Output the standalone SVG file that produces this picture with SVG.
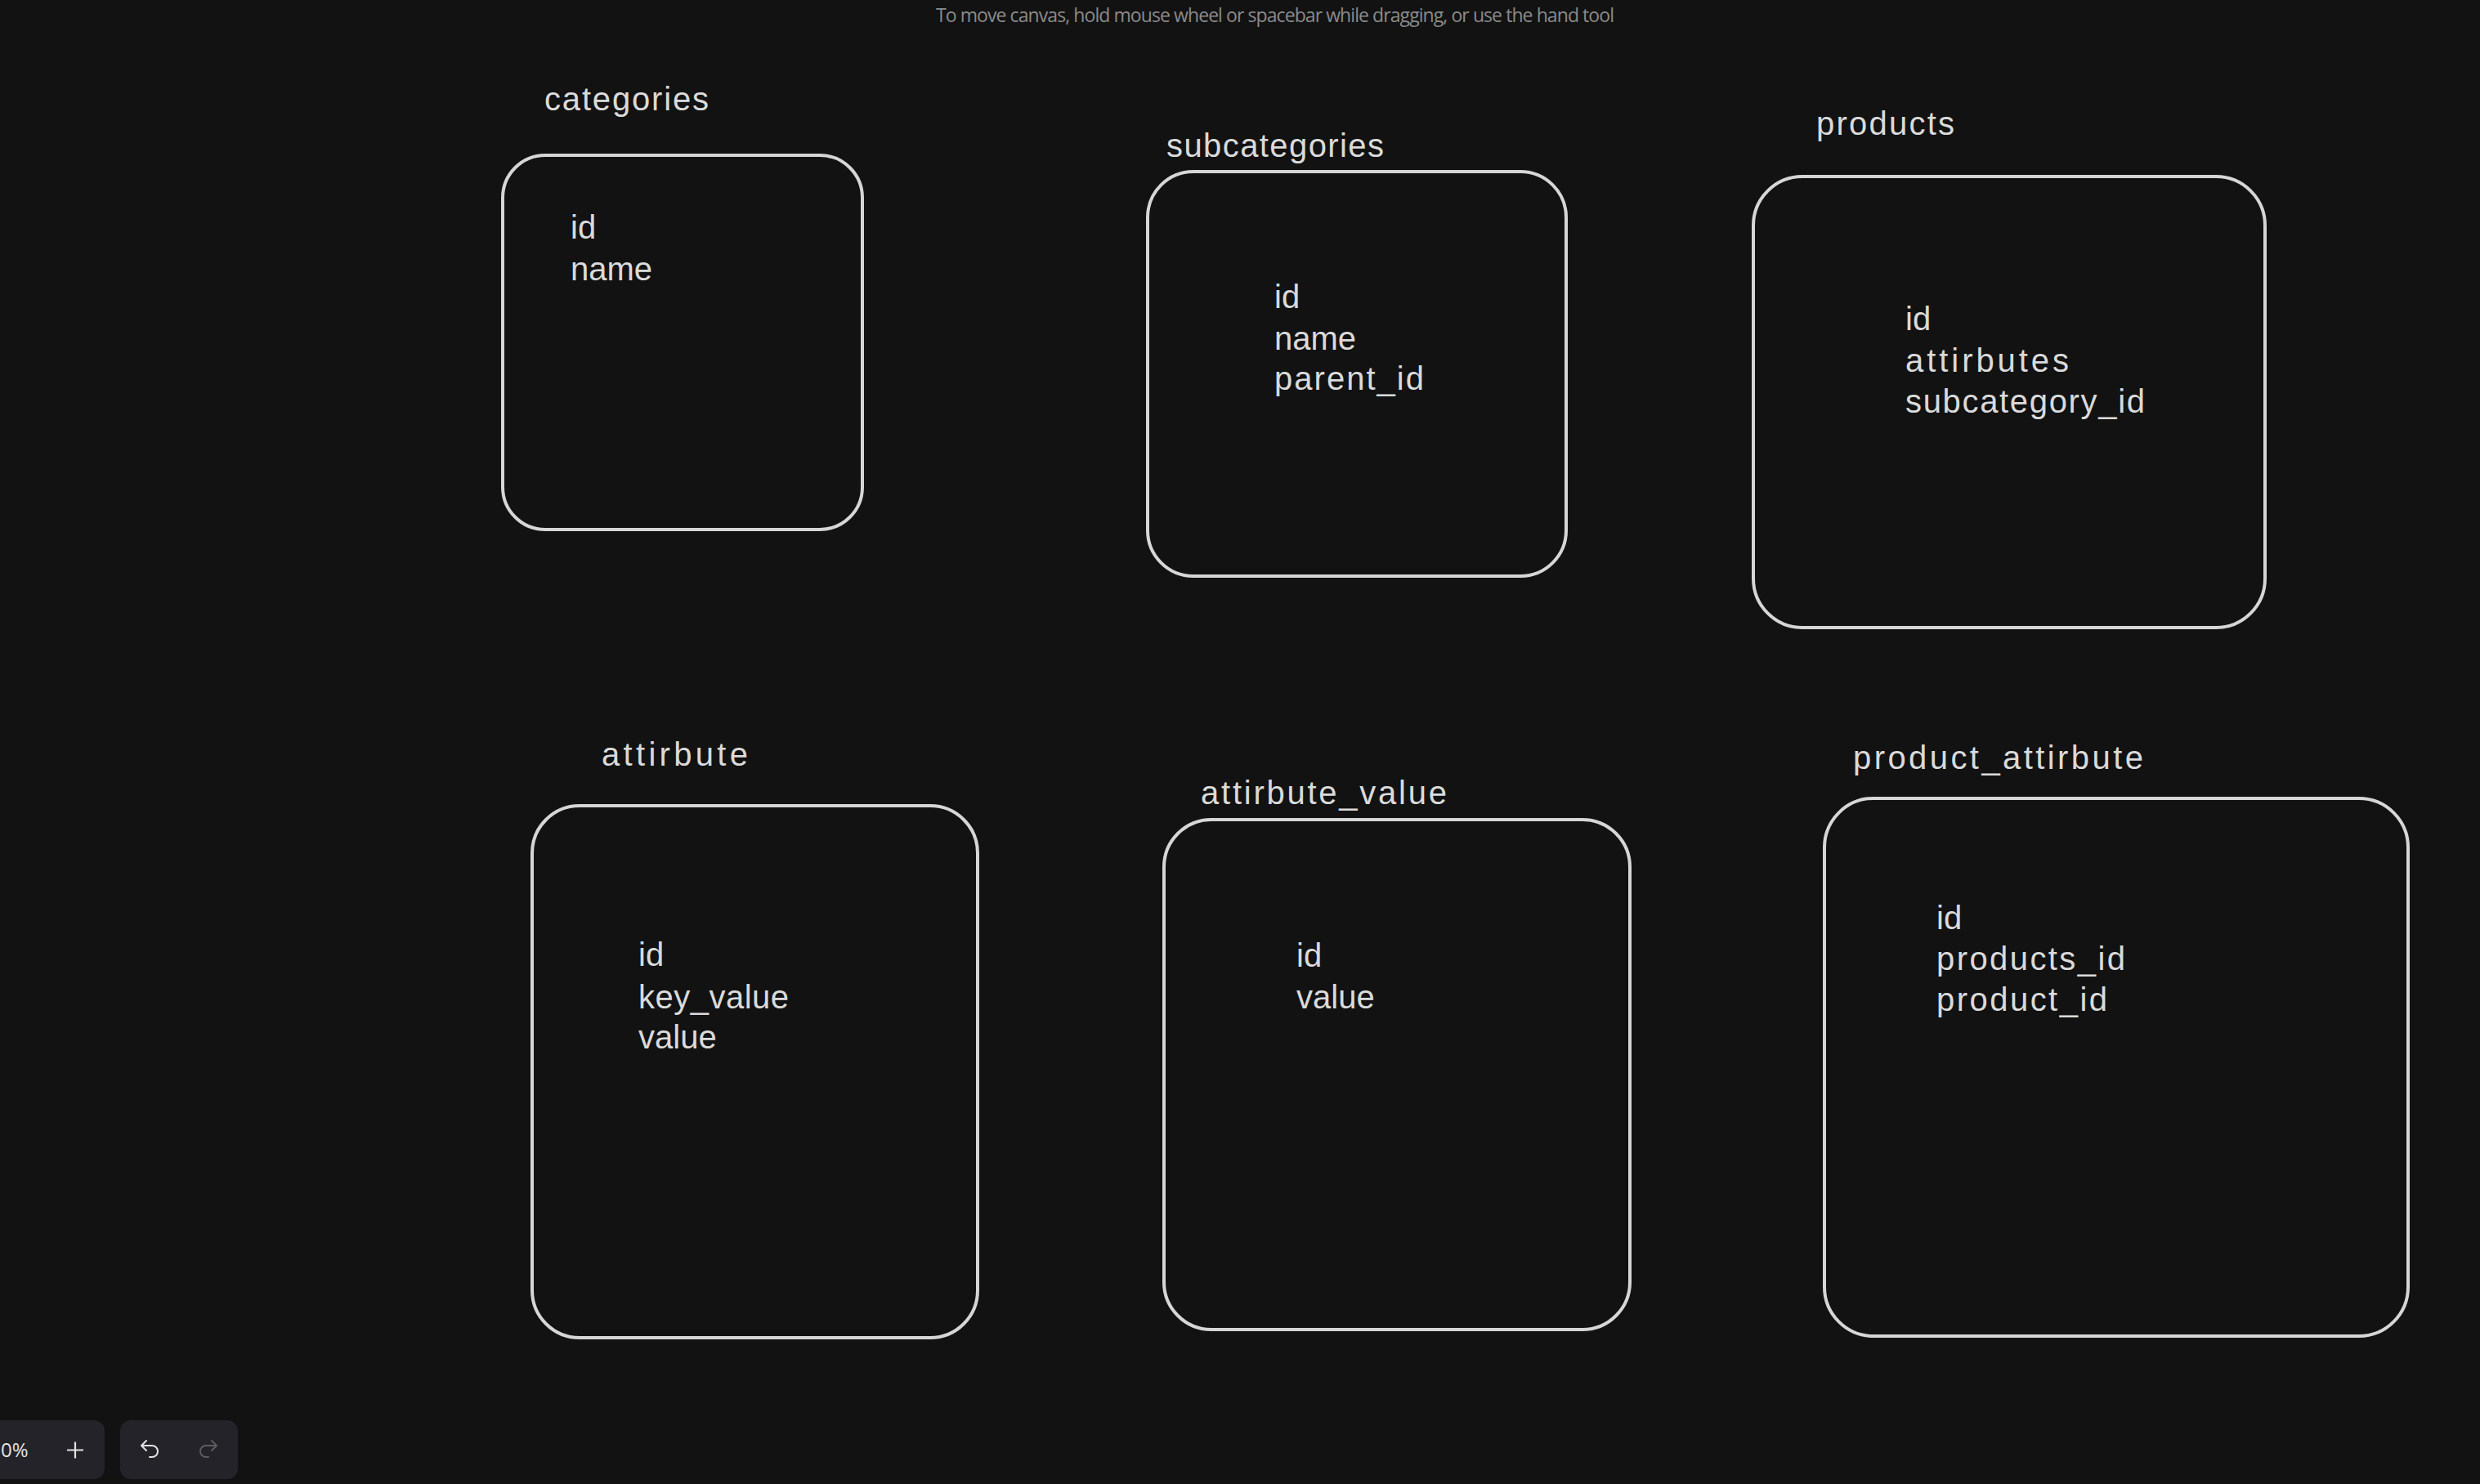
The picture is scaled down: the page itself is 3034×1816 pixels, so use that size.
<svg xmlns="http://www.w3.org/2000/svg" width="3034" height="1816" viewBox="0 0 3034 1816">
  <style>
    .box { fill: none; stroke: #d6d6d6; stroke-width: 4; stroke-linejoin: round; }
    .lbl { font-family: "Liberation Sans", Arial, sans-serif; font-size: 40px; fill: #dadada; }
    .fld { font-family: "Liberation Sans", Arial, sans-serif; font-size: 40px; fill: #dadada; }
    .hint { font-family: "Open Sans", "Liberation Sans", sans-serif; font-size: 23px; fill: #8a8a8a; }
    .island { fill: #232329; }
    .ui { font-family: "Open Sans", "Liberation Sans", sans-serif; font-size: 24px; fill: #e2e2e2; }
  </style>
  <rect x="0" y="0" width="3034" height="1816" fill="#121212"/>

  <text class="hint" x="1145" y="27" textLength="830">To move canvas, hold mouse wheel or spacebar while dragging, or use the hand tool</text>

  <g id="connectors"></g>

  <g id="categories">
    <text class="lbl" x="666" y="135" textLength="201">categories</text>
    <rect class="box" x="615" y="190" width="440" height="458" rx="52" ry="52"/>
    <text class="fld" x="698" y="292">id</text>
    <text class="fld" x="698" y="343">name</text>
  </g>

  <g id="subcategories">
    <text class="lbl" x="1427" y="192" textLength="266">subcategories</text>
    <rect class="box" x="1404" y="210" width="512" height="495" rx="56" ry="56"/>
    <text class="fld" x="1559" y="377">id</text>
    <text class="fld" x="1559" y="428">name</text>
    <text class="fld" x="1559" y="477" textLength="183">parent_id</text>
  </g>

  <g id="products">
    <text class="lbl" x="2222" y="165" textLength="169">products</text>
    <rect class="box" x="2145" y="216" width="626" height="552" rx="60" ry="60"/>
    <text class="fld" x="2331" y="404">id</text>
    <text class="fld" x="2331" y="455" textLength="200">attirbutes</text>
    <text class="fld" x="2331" y="505" textLength="293">subcategory_id</text>
  </g>

  <g id="attirbute">
    <text class="lbl" x="736" y="937" textLength="179">attirbute</text>
    <rect class="box" x="651" y="986" width="545" height="651" rx="58" ry="58"/>
    <text class="fld" x="781" y="1182">id</text>
    <text class="fld" x="781" y="1234" textLength="184">key_value</text>
    <text class="fld" x="781" y="1283">value</text>
  </g>

  <g id="attirbute_value">
    <text class="lbl" x="1469" y="984" textLength="301">attirbute_value</text>
    <rect class="box" x="1424" y="1003" width="570" height="624" rx="58" ry="58"/>
    <text class="fld" x="1586" y="1183">id</text>
    <text class="fld" x="1586" y="1234">value</text>
  </g>

  <g id="product_attirbute">
    <text class="lbl" x="2267" y="941" textLength="355">product_attirbute</text>
    <rect class="box" x="2232" y="977" width="714" height="658" rx="60" ry="60"/>
    <text class="fld" x="2369" y="1137">id</text>
    <text class="fld" x="2369" y="1187" textLength="231">products_id</text>
    <text class="fld" x="2369" y="1237" textLength="209">product_id</text>
  </g>

  <g id="zoom-controls">
    <rect class="island" x="-20" y="1738" width="148" height="72" rx="13" ry="13"/>
    <text class="ui" x="1" y="1783">0%</text>
    <path d="M82 1774.5 H102 M92 1764.5 V1784.5" stroke="#e2e2e2" stroke-width="2.2" fill="none"/>
  </g>
  <g id="undo-redo">
    <rect class="island" x="147" y="1738" width="144" height="72" rx="13" ry="13"/>
    <path d="M179 1763 L173 1769 L179 1775 M173 1769 H186 A7 7 0 0 1 186 1783 H183" stroke="#e2e2e2" stroke-width="2" fill="none" stroke-linecap="round" stroke-linejoin="round"/>
    <path d="M259 1763 L265 1769 L259 1775 M265 1769 H252 A7 7 0 0 0 252 1783 H255" stroke="#5c5c5c" stroke-width="2" fill="none" stroke-linecap="round" stroke-linejoin="round"/>
  </g>
</svg>
